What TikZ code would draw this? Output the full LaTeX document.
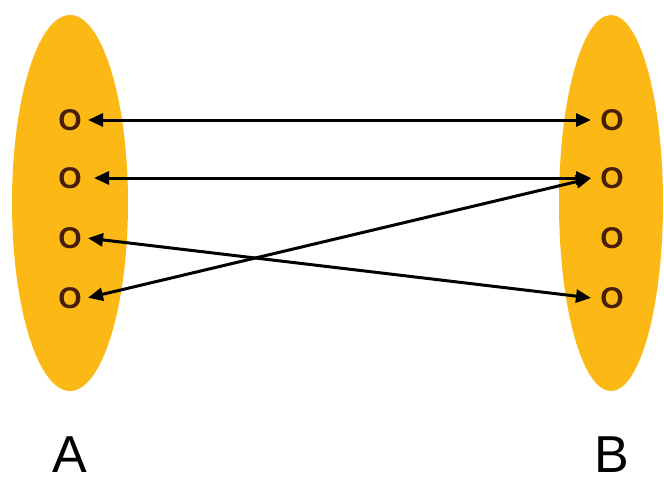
\documentclass[tikz,border=0pt]{standalone}
\usepackage{fontspec}
\setmainfont{Liberation Sans}
\usetikzlibrary{arrows.meta,shapes.geometric}
\definecolor{gold}{RGB}{252,184,20}
\definecolor{ring}{RGB}{70,30,10}
\tikzset{
  set/.style={ellipse, fill=gold, draw=none, minimum width=116pt, minimum height=376pt, inner sep=0pt},
  elem/.style={text=ring, font=\fontsize{30}{30}\selectfont\bfseries, inner sep=0pt},
  lbl/.style={font=\fontsize{52}{52}\selectfont, inner sep=0pt},
  link/.style={line width=3pt, {Triangle[length=15pt,width=13pt]}-{Triangle[length=15pt,width=13pt]}, shorten <=1pt, shorten >=1pt}
}
\begin{document}
\begin{tikzpicture}[x=1pt,y=-1pt]
\useasboundingbox (0,0) rectangle (664,480);
\node[set] (SA) at (70,203) {};
\node[set, minimum width=104pt] (SB) at (611,203) {};
\node[elem] (a1) at (70,120) {O};
\node[elem] (a2) at (70,178) {O};
\node[elem] (a3) at (70,238) {O};
\node[elem] (a4) at (70,298) {O};
\node[elem] (b1) at (612,120) {O};
\node[elem] (b2) at (612,178) {O};
\node[elem] (b3) at (612,238) {O};
\node[elem] (b4) at (612,298) {O};
\node[lbl] (A) at (70,455) {A};
\node[lbl] (B) at (612,455) {B};
\coordinate (a1e) at (87,120);
\coordinate (a2e) at (93,178);
\coordinate (a3e) at (87,238);
\coordinate (a4e) at (87,298);
\coordinate (b1e) at (592,120);
\coordinate (b2e) at (592,178);
\coordinate (b4e) at (592,298);
\draw[link] (a1e) -- (b1e);
\draw[link] (a2e) -- (b2e);
\draw[link] (a4e) -- (b2e);
\draw[link] (a3e) -- (b4e);
\end{tikzpicture}
\end{document}
